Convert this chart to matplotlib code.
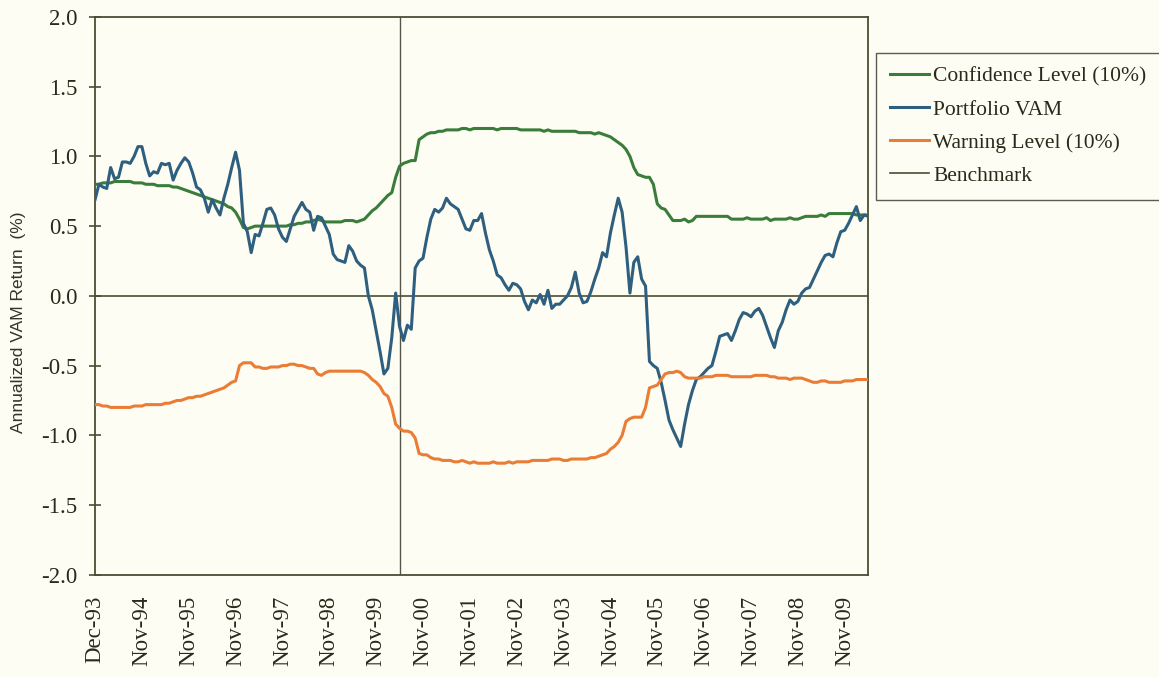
import numpy as np
import matplotlib
matplotlib.use("Agg")
import matplotlib.pyplot as plt

# monthly series, Dec-93 onwards (annualized VAM return, %)
portfolio_vam = [
    0.69, 0.80, 0.78, 0.77, 0.92, 0.84, 0.85, 0.96, 0.96, 0.95,
    1.00, 1.07, 1.07, 0.95, 0.86, 0.89, 0.88, 0.95, 0.94, 0.95,
    0.83, 0.90, 0.95, 0.99, 0.96, 0.88, 0.78, 0.76, 0.70, 0.60,
    0.69, 0.63, 0.58, 0.70, 0.80, 0.92, 1.03, 0.90, 0.52, 0.46,
    0.31, 0.44, 0.43, 0.52, 0.62, 0.63, 0.58, 0.48, 0.42, 0.39,
    0.48, 0.57, 0.62, 0.67, 0.62, 0.60, 0.47, 0.57, 0.56, 0.50,
    0.44, 0.30, 0.26, 0.25, 0.24, 0.36, 0.32, 0.25, 0.22, 0.20,
    0.00, -0.10, -0.25, -0.40, -0.56, -0.52, -0.30, 0.02, -0.22, -0.32,
    -0.21, -0.24, 0.20, 0.25, 0.27, 0.42, 0.55, 0.62, 0.60, 0.63,
    0.70, 0.66, 0.64, 0.62, 0.55, 0.48, 0.47, 0.54, 0.54, 0.59,
    0.45, 0.33, 0.25, 0.15, 0.13, 0.08, 0.04, 0.09, 0.08, 0.05,
    -0.04, -0.10, -0.03, -0.05, 0.01, -0.06, 0.04, -0.09, -0.06, -0.06,
    -0.03, 0.00, 0.06, 0.17, 0.02, -0.05, -0.04, 0.03, 0.12, 0.20,
    0.31, 0.28, 0.45, 0.58, 0.70, 0.60, 0.35, 0.02, 0.24, 0.28,
    0.12, 0.07, -0.47, -0.50, -0.52, -0.62, -0.75, -0.89, -0.96, -1.02,
    -1.08, -0.92, -0.78, -0.68, -0.60, -0.58, -0.55, -0.52, -0.50, -0.40,
    -0.29, -0.28, -0.27, -0.32, -0.25, -0.17, -0.12, -0.13, -0.15, -0.11,
    -0.09, -0.14, -0.22, -0.30, -0.37, -0.25, -0.19, -0.10, -0.03, -0.06,
    -0.04, 0.02, 0.05, 0.06, 0.12, 0.18, 0.24, 0.29, 0.30, 0.28,
    0.38, 0.46, 0.47, 0.52, 0.58, 0.64, 0.54, 0.58, 0.57,
]

confidence_level = [
    0.80, 0.80, 0.81, 0.81, 0.81, 0.82, 0.82, 0.82, 0.82, 0.82,
    0.81, 0.81, 0.81, 0.80, 0.80, 0.80, 0.79, 0.79, 0.79, 0.79,
    0.78, 0.78, 0.77, 0.76, 0.75, 0.74, 0.73, 0.72, 0.71, 0.70,
    0.69, 0.68, 0.67, 0.66, 0.64, 0.63, 0.60, 0.55, 0.49, 0.48,
    0.49, 0.50, 0.50, 0.50, 0.50, 0.50, 0.50, 0.50, 0.50, 0.50,
    0.51, 0.51, 0.52, 0.52, 0.53, 0.53, 0.54, 0.55, 0.54, 0.53,
    0.53, 0.53, 0.53, 0.53, 0.54, 0.54, 0.54, 0.53, 0.54, 0.55,
    0.58, 0.61, 0.63, 0.66, 0.69, 0.72, 0.74, 0.85, 0.93, 0.95,
    0.96, 0.97, 0.97, 1.12, 1.14, 1.16, 1.17, 1.17, 1.18, 1.18,
    1.19, 1.19, 1.19, 1.19, 1.20, 1.20, 1.19, 1.20, 1.20, 1.20,
    1.20, 1.20, 1.20, 1.19, 1.20, 1.20, 1.20, 1.20, 1.20, 1.19,
    1.19, 1.19, 1.19, 1.19, 1.19, 1.18, 1.19, 1.18, 1.18, 1.18,
    1.18, 1.18, 1.18, 1.18, 1.17, 1.17, 1.17, 1.17, 1.16, 1.17,
    1.16, 1.15, 1.14, 1.12, 1.10, 1.08, 1.05, 1.00, 0.92, 0.87,
    0.86, 0.85, 0.85, 0.80, 0.66, 0.63, 0.62, 0.58, 0.54, 0.54,
    0.54, 0.55, 0.53, 0.54, 0.57, 0.57, 0.57, 0.57, 0.57, 0.57,
    0.57, 0.57, 0.57, 0.55, 0.55, 0.55, 0.55, 0.56, 0.55, 0.55,
    0.55, 0.55, 0.56, 0.54, 0.55, 0.55, 0.55, 0.55, 0.56, 0.55,
    0.55, 0.56, 0.57, 0.57, 0.57, 0.57, 0.58, 0.57, 0.59, 0.59,
    0.59, 0.59, 0.59, 0.59, 0.59, 0.58, 0.58, 0.58, 0.58,
]

warning_level = [
    -0.78, -0.78, -0.79, -0.79, -0.80, -0.80, -0.80, -0.80, -0.80, -0.80,
    -0.79, -0.79, -0.79, -0.78, -0.78, -0.78, -0.78, -0.78, -0.77, -0.77,
    -0.76, -0.75, -0.75, -0.74, -0.73, -0.73, -0.72, -0.72, -0.71, -0.70,
    -0.69, -0.68, -0.67, -0.66, -0.64, -0.62, -0.61, -0.50, -0.48, -0.48,
    -0.48, -0.51, -0.51, -0.52, -0.52, -0.51, -0.51, -0.51, -0.50, -0.50,
    -0.49, -0.49, -0.50, -0.50, -0.51, -0.52, -0.52, -0.56, -0.57, -0.55,
    -0.54, -0.54, -0.54, -0.54, -0.54, -0.54, -0.54, -0.54, -0.54, -0.55,
    -0.57, -0.60, -0.62, -0.65, -0.70, -0.72, -0.80, -0.92, -0.95, -0.97,
    -0.97, -0.98, -1.02, -1.13, -1.14, -1.14, -1.16, -1.17, -1.17, -1.18,
    -1.18, -1.18, -1.19, -1.19, -1.18, -1.19, -1.20, -1.19, -1.20, -1.20,
    -1.20, -1.20, -1.19, -1.20, -1.20, -1.20, -1.19, -1.20, -1.19, -1.19,
    -1.19, -1.19, -1.18, -1.18, -1.18, -1.18, -1.18, -1.17, -1.17, -1.17,
    -1.18, -1.18, -1.17, -1.17, -1.17, -1.17, -1.17, -1.16, -1.16, -1.15,
    -1.14, -1.13, -1.10, -1.08, -1.05, -1.00, -0.90, -0.88, -0.87, -0.87,
    -0.87, -0.80, -0.66, -0.65, -0.64, -0.60, -0.56, -0.55, -0.55, -0.54,
    -0.55, -0.58, -0.59, -0.59, -0.59, -0.59, -0.58, -0.58, -0.58, -0.57,
    -0.57, -0.57, -0.57, -0.58, -0.58, -0.58, -0.58, -0.58, -0.58, -0.57,
    -0.57, -0.57, -0.57, -0.58, -0.58, -0.59, -0.59, -0.59, -0.60, -0.59,
    -0.59, -0.59, -0.60, -0.61, -0.62, -0.62, -0.61, -0.61, -0.62, -0.62,
    -0.62, -0.62, -0.61, -0.61, -0.61, -0.60, -0.60, -0.60, -0.60,
]

tick_labels = ["Dec-93", "Nov-94", "Nov-95", "Nov-96", "Nov-97", "Nov-98",
               "Nov-99", "Nov-00", "Nov-01", "Nov-02", "Nov-03", "Nov-04",
               "Nov-05", "Nov-06", "Nov-07", "Nov-08", "Nov-09"]
benchmark_value = 0.0
marker_month = 78  # vertical reference line


def main():
    bg = "#fdfdf4"
    frame = "#4a4f30"
    serif = ["Liberation Serif", "DejaVu Serif"]

    fig = plt.figure(figsize=(11.59, 6.77), dpi=100, facecolor=bg)
    ax = fig.add_axes([0.082, 0.151, 0.667, 0.824], facecolor=bg)

    x = np.arange(len(portfolio_vam))

    ax.axvline(marker_month, color="#555548", lw=1.0, zorder=1)
    ax.plot(x, confidence_level, color="#3a7d3a", lw=2.2, label="Confidence Level (10%)", zorder=3)
    ax.plot(x, portfolio_vam, color="#2f5f7f", lw=2.2, label="Portfolio VAM", zorder=3)
    ax.plot(x, warning_level, color="#ea7d35", lw=2.2, label="Warning Level (10%)", zorder=3)
    ax.axhline(benchmark_value, color=frame, lw=1.2, label="Benchmark", zorder=2)

    ax.set_xlim(0, len(portfolio_vam) - 1)
    ax.set_ylim(-2.0, 2.0)
    ax.set_yticks(np.arange(-2.0, 2.01, 0.5))
    ax.set_yticklabels([f"{v:.1f}" for v in np.arange(-2.0, 2.01, 0.5)],
                       family=serif, fontsize=16.5, color="#2a2a1a")
    ax.set_xticks(np.arange(0, len(portfolio_vam), 12))
    ax.set_xticklabels(tick_labels, rotation=90, family=serif, fontsize=16.5, color="#2a2a1a")
    ax.tick_params(axis="y", direction="inout", length=9, width=1.2, color=frame, pad=8)
    ax.tick_params(axis="x", length=0, pad=15)

    for side in ax.spines.values():
        side.set_color(frame)
        side.set_linewidth(1.3)

    ax.set_ylabel("Annualized VAM Return  (%)", family=["Liberation Sans", "DejaVu Sans"],
                  fontsize=12.5, color="#333328")
    ax.yaxis.set_label_coords(-0.089, 0.453)

    leg = ax.legend(loc="upper left", bbox_to_anchor=(0.756, 0.922),
                    bbox_transform=fig.transFigure, frameon=True, fancybox=False,
                    prop={"family": serif, "size": 15.5}, handlelength=1.8,
                    handletextpad=0.2, labelspacing=0.6, borderpad=0.65,
                    borderaxespad=0)
    leg.get_frame().set_edgecolor("#333328")
    leg.get_frame().set_linewidth(1.0)
    leg.get_frame().set_facecolor(bg)
    for t in leg.get_texts():
        t.set_color("#2a2a1a")

    fig.savefig("out.png", dpi=100, facecolor=bg)


if __name__ == "__main__":
    main()
